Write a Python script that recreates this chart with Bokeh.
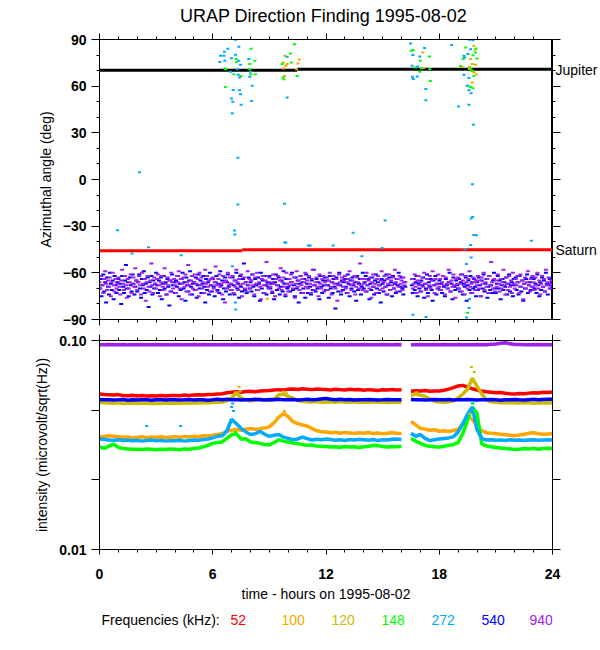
import numpy as np
from bokeh.plotting import figure
from bokeh.layouts import column, row
from bokeh.models import (Range1d, LinearAxis, LogAxis, FixedTicker,
                          CustomJSTickFormatter)
from bokeh.core.properties import value
from bokeh.embed import file_html
from bokeh.resources import INLINE

FONT = "Liberation Sans"
TITLE = "URAP Direction Finding  1995-08-02"
HOUR_TICKS = [0, 6, 12, 18, 24]
HOUR_MINOR = list(range(25))
AZ_TICKS = [-90, -60, -30, 0, 30, 60, 90]
AZ_MINOR = list(range(-90, 91, 10))
INT_TICKS = [0.01, 0.0215443, 0.0464159, 0.1]
FREQS = ["52", "100", "120", "148", "272", "540", "940"]
COLORS = ["#FF0000", "#FFA500", "#CCBB00", "#00FF00", "#00AAFF", "#0000FF", "#A020F0"]
PLANETS = ["Jupiter", "Saturn"]

# Jupiter / Saturn reference directions (deg)
jup_t0 = [0, 10.47]
jup_t1 = [10.47, 24]
jup_az = [70.3, 70.9]
sat_t0 = [0, 7.56]
sat_t1 = [7.56, 24]
sat_az = [-45.8, -45.2]
planet_az = [70.6, -45.5]

N = None
# azimuth magnitudes (angles are negative), sampled every 0.05 h
az_940 = [
 66,70,62,68,73,64,59,67,71,65, 69,63,75,66,60,68,72,64,70,67,
 63,69,74,65,58,67,71,62,68,76, 64,70,66,61,73,67,63,69,57,65,
 71,66,62,68,74,60,67,70,64,78, 66,62,69,72,65,54,68,73,63,67,
 70,64,61,68,75,66,62,69,71,57, 67,74,63,68,65,72,60,66,70,64,
 68,73,62,66,59,70,64,77,67,63, 69,61,72,66,55,68,74,65,62,70,
 66,61,71,67,64,75,60,68,63,70, 66,73,58,67,62,69,65,72,64,68,
 63,70,66,56,68,72,64,61,69,67, 74,62,66,79,65,70,60,68,63,71,
 67,62,73,65,69,58,66,71,64,68, 61,75,67,63,70,66,72,59,68,64,
 70,65,61,68,74,63,67,60,71,66, 69,77,64,62,68,73,65,53,67,70,
 63,69,66,72,61,67,75,64,68,62, 70,65,57,71,66,63,69,74,60,67,
 72,64,68,61,66,70,63,76,67,59, 69,65,71,62,68,64,73,66,60,69,
 65,70,62,67,73,64,58,68,71,66, 63,69,75,61,67,70,64,62,72,66,
 68,63,71,65,60,69,74,66,62,67, 70,64,78,68,61,66,72,63,69,65,
 62,70,66,73,64,59,68,71,65,67, 62,74,69,63,66,70,54,68,64,71,
 67,64,72,60,68,65,70,63,76,66, 61,69,67,73,64,62,68,71,65,59,
 70,66,62,69,74,64,67,61,71,65, 68,63,70,58,66,72,64,69,62,67,
 65,71,63,68,66,N,N,N,N,N, N,64,70,67,61,69,73,65,62,68,
 66,72,63,69,60,67,71,64,75,68, 62,70,65,59,68,73,64,67,70,61,
 69,64,71,66,62,68,74,63,67,70, 58,66,72,65,69,61,68,76,64,67,
 63,70,67,61,72,65,68,74,62,66, 70,64,59,69,67,73,63,66,71,65,
 68,62,70,65,75,63,67,60,71,66, 69,64,73,62,68,53,66,70,64,72,
 65,69,61,67,72,64,70,66,58,68, 74,63,67,71,62,69,65,73,60,67,
 70,64,68,62,66,73,61,69,65,77, 67,63,70,66,59,68,72,64,69,62,
 66,71,63,68,60,70,65,74,67,62, 69,64,72,58,68,66,63,70,67,65,
 68]
az_540 = [
 70,64,75,68,61,72,66,79,63,69, 74,60,67,71,65,77,62,68,73,66,
 64,71,67,80,62,69,73,65,55,70, 66,75,63,68,72,61,67,74,69,65,
 72,66,61,70,76,64,68,59,73,67, 71,63,82,66,69,62,74,65,70,67,
 60,68,73,65,71,63,77,67,62,70, 66,74,64,69,81,65,72,61,68,66,
 73,65,69,62,75,67,71,64,60,70, 66,78,63,68,72,65,59,69,74,67,
 66,71,63,76,68,61,70,65,73,67, 62,69,79,64,71,66,74,60,68,72,
 64,69,75,66,62,71,67,73,59,68, 65,77,70,63,72,66,61,69,74,67,
 71,63,68,74,65,60,70,67,76,62, 69,72,64,54,71,66,73,68,63,70,
 66,72,61,69,75,64,68,71,63,67, 78,60,70,65,73,62,68,74,66,69,
 62,70,67,73,64,77,66,61,71,68, 63,74,69,65,72,59,67,75,64,70,
 69,64,72,66,60,71,68,75,63,70, 65,79,67,62,73,66,70,64,76,61,
 67,73,63,69,74,65,71,58,68,72, 64,70,66,77,62,69,73,65,68,63,
 71,65,68,76,62,70,66,73,64,69, 83,63,67,72,60,68,74,65,71,66,
 64,69,73,61,67,75,65,70,63,68, 72,66,78,62,71,67,64,74,69,60,
 70,66,62,72,68,64,77,67,71,63, 69,74,65,61,70,66,73,68,79,64,
 67,72,65,69,61,74,68,63,71,66, 75,62,70,67,73,64,68,60,72,69,
 63,70,74,66,69,N,N,N,N,N, N,68,73,64,71,66,62,75,67,70,
 72,65,68,63,76,67,70,61,73,66, 69,64,71,78,65,68,62,74,67,70,
 65,71,67,73,62,69,75,64,68,70, 66,60,72,67,77,63,69,71,65,68,
 70,64,72,66,61,74,67,69,63,78, 68,65,71,62,73,66,70,64,69,75,
 66,71,63,68,75,65,70,61,72,67, 64,76,69,62,71,68,73,65,60,70,
 73,67,62,70,65,77,68,64,71,66, 69,63,74,67,61,72,68,66,75,64,
 68,63,71,66,74,62,69,72,65,78, 67,70,64,61,73,68,66,71,63,69,
 64,70,67,73,61,68,75,66,71,63, 69,65,72,60,67,74,68,64,70,66,
 69]

# sporadic direction fixes (hour, deg)
t_272 = [7.21,6.62,6.41,7.38,6.80,6.59,6.64,6.37,7.21,6.99,7.38,7.47,7.29,6.94,7.35,7.42,
         7.50,7.08,7.42,7.47,6.99,7.06,7.03,8.05,8.09,7.96,7.91,8.00,9.94,9.94,7.33,7.33,
         7.15,7.17,9.80,9.82,11.06,7.04,
         16.48,17.22,16.60,16.97,16.56,16.86,16.58,16.83,16.62,17.29,17.29,18.65,19.60,19.78,
         19.66,19.31,19.34,19.52,19.31,19.57,19.48,19.57,19.69,19.02,19.57,19.81,19.76,19.77,
         19.69,19.83,19.66,19.36,19.69,19.44,
         2.12,0.96,2.60,1.72,4.33,9.87,11.16,12.38,13.44,13.90,14.97,15.13,19.97,22.88,
         7.20,7.22,16.60,17.30,19.45,19.58,19.60]
a_272 = [89.8,82.1,79.5,85.3,84.0,79.5,76.3,75.6,80.2,78.0,76.3,73.7,70.9,69.2,67.3,65.6,
         48.0,57.6,57.4,54.8,52.0,50.0,42.6,50.5,60.2,66.0,77.4,69.2,78.9,52.7,14.0,-16.1,
         -32.8,-35.4,-15.6,-40.3,-42.5,-55.8,
         87.5,84.5,80.0,79.0,73.1,72.7,66.0,66.2,64.6,58.1,51.0,86.4,89.8,89.5,
         83.8,79.5,78.4,80.6,67.3,65.2,60.2,57.4,55.5,46.9,48.0,35.2,-3.0,-24.1,
         -25.1,-35.6,-42.1,-44.8,-50.1,-54.4,
         4.6,-32.6,-43.6,-47.6,-48.7,-40.7,-42.5,-42.5,-34.3,-49.4,-44.0,-26.4,-35.8,-39.3,
         -79.1,-83.6,-87.0,-88.4,-88.7,-82.6,-76.8]
t_148 = [8.03,8.23,7.96,6.64,6.69,7.24,7.26,7.12,7.50,7.96,8.00,8.26,6.67,10.33,10.12,9.68,
         10.16,9.71,9.77,10.47,16.51,16.62,17.48,17.00,16.74,17.06,16.97,17.50,17.53,19.40,
         19.95,20.00,19.92,19.79,19.13,19.27,19.66,19.75,19.83,19.52,19.66,19.79,19.50]
a_148 = [84.0,76.3,74.2,71.4,70.8,77.4,75.6,67.7,66.6,70.9,67.7,67.7,59.5,87.0,81.0,74.2,
         75.2,65.6,64.5,66.6,82.7,83.2,79.0,76.3,72.0,71.4,69.2,70.9,63.4,84.9,
         84.2,77.8,81.6,79.9,72.9,77.4,71.4,69.9,66.6,60.2,59.5,58.7,-85.7]
t_100 = [9.73,9.94,10.58,10.51,9.77,10.44,9.80,9.87,17.13,17.18,19.97,19.75,19.21,8.90]
a_100 = [75.2,74.2,77.2,74.6,71.4,70.9,66.6,73.1,81.6,71.6,67.7,62.3,72.5,-76.6]
t_120 = [9.82,19.83,19.89,19.66,19.75,19.92,19.62,19.72,19.83,19.60]
a_120 = [79.5,86.0,83.4,77.4,74.2,73.7,72.5,69.9,68.9,71.0]

# intensity (1e-3 microvolt/sqrt(Hz)), every 0.25 h
i_52 = [55.5,55.2,55.0,54.8,55.1,54.6,54.4,54.7, 54.3,54.5,54.2,54.4,54.3,54.6,54.3,54.5,
        54.6,54.4,54.8,54.5,54.9,55.0,54.8,55.2, 55.1,55.4,55.6,56.2,56.5,56.8,56.6,57.0,
        57.1,56.9,57.3,57.5,57.6,57.9,58.2,58.0, 58.4,58.6,58.3,58.7,58.5,58.2,58.6,58.4,
        58.3,58.0,58.5,58.2,57.9,58.4,58.1,58.3, 57.8,58.2,58.0,57.6,58.1,57.9,58.3,58.0,
        58.2,N,57.2,57.5,57.3,57.6,57.2,57.4, 57.3,57.8,58.5,59.5,60.6,61.0,59.8,58.8,
        58.0,57.3,56.8,56.5,56.2,56.4,55.9,55.6, 55.5,55.8,55.6,56.0,56.3,56.1,56.6,56.4, 56.7]
i_100 = [34.5,34.7,35.0,34.8,34.6,34.4,34.5,34.3, 34.4,34.6,34.3,34.5,34.4,34.6,34.3,34.5,
         34.6,34.4,34.7,34.5,34.8,34.6,35.0,34.9, 35.2,35.5,35.9,36.8,37.2,37.5,37.2,37.6,
         37.9,37.6,37.8,38.2,38.6,40.5,43.0,44.7, 43.2,40.9,40.0,39.4,39.0,38.0,37.0,36.6,
         36.5,36.2,36.4,36.0,36.3,36.1,35.9,36.2, 36.0,36.3,35.9,36.1,35.8,36.0,36.2,36.0,
         35.9,N,41.0,39.5,38.0,37.6,37.2,37.4, 36.8,37.0,36.7,37.1,37.5,40.0,43.0,42.0,
         39.0,37.0,36.2,36.0,35.9,35.6,35.4,35.2, 35.0,35.3,35.6,36.0,36.2,35.8,35.6,35.7, 35.8]
i_120 = [50.6,50.4,50.2,50.1,50.3,50.0,50.1,50.2, 50.0,50.2,50.1,49.9,50.1,50.0,50.2,50.1,
         50.2,50.0,50.3,50.1,50.4,50.2,50.5,50.3, 50.5,50.6,50.8,51.5,53.0,56.5,53.0,52.0,
         51.5,51.8,52.5,52.0,51.6,52.5,55.0,55.5, 54.0,52.8,51.6,51.2,50.9,50.8,51.0,50.7,
         50.8,50.9,50.7,51.0,50.8,50.6,50.9,50.7, 50.8,50.6,50.9,50.7,50.8,50.5,50.7,50.8,
         50.6,N,54.5,55.5,54.8,54.0,52.5,51.2, 50.8,50.6,50.9,51.5,53.0,55.5,58.5,66.0,
         60.5,55.5,52.0,50.9,50.6,50.4,50.5,50.3, 50.4,50.2,50.5,50.3,50.1,50.4,50.2,50.3, 50.2]
i_148 = [31.0,30.5,31.2,31.9,30.8,30.4,30.3,30.2, 30.2,30.1,30.3,30.2,30.0,30.2,30.1,30.3,
         30.2,30.0,30.3,30.2,30.4,30.6,31.0,31.5, 32.2,32.5,32.7,34.0,35.4,35.8,33.7,33.9,
         32.7,32.5,32.2,31.8,31.6,32.5,33.5,33.0, 32.7,32.3,32.1,31.8,31.5,31.6,31.3,31.2,
         31.1,30.9,31.0,30.8,31.1,30.9,31.0,30.8, 31.0,31.2,31.5,31.4,31.1,30.9,31.1,31.0,
         31.2,N,34.0,33.0,32.2,31.5,31.2,31.0, 30.9,31.2,31.5,31.8,32.5,35.9,41.6,48.0,
         45.0,32.0,31.3,31.0,30.8,30.6,30.4,30.3, 30.1,30.2,30.4,30.3,30.5,30.2,30.4,30.5, 30.4]
i_272 = [33.8,33.6,33.4,33.3,33.5,33.2,33.4,33.1, 33.3,33.0,33.2,33.4,33.1,33.3,33.0,33.2,
         33.1,33.3,33.0,33.2,33.4,33.3,33.6,33.8, 34.2,34.8,35.0,37.0,42.0,40.0,38.0,36.5,
         35.5,35.8,36.8,35.6,34.8,35.2,35.5,34.5, 34.0,33.5,33.8,34.5,33.9,33.4,33.7,33.5,
         33.8,33.6,33.3,33.5,33.2,33.6,33.4,33.7, 33.5,33.3,33.6,33.2,33.5,33.4,33.7,33.8,
         33.6,N,36.0,34.8,35.5,34.0,33.2,33.5, 33.8,34.0,34.2,34.6,36.5,40.0,44.5,48.0,
         37.5,34.0,33.4,33.5,33.3,33.4,33.2,33.5, 33.3,33.4,33.2,33.4,33.5,33.3,33.4,33.5, 33.4]
i_540 = [52.2,52.0,52.1,51.9,52.0,52.2,51.8,52.0, 51.9,52.1,52.0,51.8,52.0,52.1,51.9,52.0,
         52.1,51.9,52.0,52.2,51.9,52.0,52.1,51.8, 52.0,52.3,52.1,52.4,52.0,52.2,51.9,52.1,
         52.0,52.3,52.1,51.9,52.2,52.0,52.3,52.1, 52.0,52.2,51.9,52.1,52.3,52.0,52.2,52.5,
         52.8,52.4,52.1,52.3,52.0,52.2,51.9,52.1, 52.0,52.2,52.1,51.9,52.0,52.2,52.1,52.0,
         52.1,N,52.2,52.0,52.1,51.9,52.0,52.2, 52.1,52.0,52.2,51.9,52.1,52.0,52.2,52.1,
         51.9,52.1,52.0,52.2,52.0,51.8,52.1,52.0, 52.2,52.0,51.9,52.1,52.3,52.0,52.2,52.4, 52.3]
i_940 = [95.5,95.3,95.6,95.4,95.5,95.7,95.3,95.5, 95.4,95.6,95.3,95.5,95.7,95.4,95.5,95.3,
         95.6,95.4,95.5,95.3,95.6,95.5,95.7,95.4, 95.5,95.3,95.6,95.4,95.5,95.7,95.4,95.6,
         95.5,95.3,95.6,95.5,95.4,95.6,95.3,95.5, 95.6,95.4,95.5,95.7,95.3,95.5,95.6,95.4,
         95.5,95.6,95.3,95.5,95.4,95.6,95.5,95.3, 95.6,95.4,95.5,95.3,95.6,95.5,95.4,95.6,
         95.5,N,95.3,95.5,95.6,95.4,95.5,95.7, 95.4,95.6,95.3,95.5,95.6,95.4,95.5,95.3,
         95.6,95.5,95.4,95.9,96.3,97.0,97.6,96.4, 95.6,95.6,95.4,95.5,95.3,95.6,95.5,95.4, 95.5]
# burst spray in intensity panel (hour, 1e-3)
s_t = [7.40,7.45,9.75,9.90,19.70,19.85,19.60,16.80, 7.00,7.10,7.05,19.75,19.80,2.50,4.30,
       19.80,19.90,7.20, 9.80,19.60]
s_v = [60.0,57.0,57.0,56.0,74.6,70.6,62.0,56.5, 48.0,46.0,50.0,50.0,46.0,39.0,39.0,
       50.0,46.0,36.5, 46.0,44.5]
s_c = [2,2,2,2,2,2,2,2, 4,4,4,4,4,4,4, 3,3,3, 1,1]


def style_axis(ax, out, minor_out, labels=True):
    ax.axis_line_color = "black"
    ax.major_tick_line_color = "black"
    ax.minor_tick_line_color = "black"
    ax.major_tick_in = 0
    ax.minor_tick_in = 0
    ax.major_tick_out = out
    ax.minor_tick_out = minor_out
    ax.major_label_text_font = FONT
    ax.major_label_text_font_style = "bold"
    ax.major_label_text_font_size = "14px"
    ax.major_label_text_color = "black"
    ax.axis_label_text_font = FONT
    ax.axis_label_text_font_style = "normal"
    ax.axis_label_text_font_size = "14px"
    ax.axis_label_text_color = "black"
    if not labels:
        ax.formatter = CustomJSTickFormatter(code="return '';")
        ax.major_label_text_font_size = "0px"
        ax.major_label_standoff = 0


def base_fig(width, height, left, right, top, bottom, x_range, y_range, ytype="linear"):
    p = figure(width=width, height=height, x_range=x_range, y_range=y_range,
               y_axis_type=ytype, x_axis_location=None, y_axis_location=None,
               output_backend="svg", toolbar_location=None,
               min_border_left=left, min_border_right=right,
               min_border_top=top, min_border_bottom=bottom)
    p.outline_line_color = "black"
    p.outline_line_width = 1
    p.background_fill_color = "white"
    p.border_fill_color = "white"
    p.grid.visible = False
    return p


# ---------------- title strip (x in page pixels, frame 99..552) ----------------
pT = base_fig(600, 30, 99, 48, 0, 0, Range1d(99, 552), Range1d(30, 0))
pT.outline_line_color = None
pT.text(x=[325.5], y=[15], text=[TITLE], text_baseline="middle", text_align="center",
        text_font=value(FONT), text_font_size="18px", text_color="black")

# ---------------- top panel: azimuth ----------------
az_range = Range1d(-90, 90)
p1 = base_fig(552, 299, 99, 0, 9, 10, Range1d(0, 24), az_range)

ax = LinearAxis(ticker=FixedTicker(ticks=AZ_TICKS, minor_ticks=AZ_MINOR),
                axis_label="Azimuthal angle (deg)")
style_axis(ax, 8, 3)
ax.major_label_standoff = 5
ax.axis_label_standoff = 6
p1.add_layout(ax, "left")
for side in ("above", "below"):
    ax = LinearAxis(ticker=FixedTicker(ticks=HOUR_TICKS, minor_ticks=HOUR_MINOR))
    style_axis(ax, 6, 3, labels=False)
    p1.add_layout(ax, side)

p1.segment(x0=jup_t0, x1=jup_t1, y0=jup_az, y1=jup_az, line_color="black", line_width=3)
p1.segment(x0=sat_t0, x1=sat_t1, y0=sat_az, y1=sat_az, line_color="#FF0000", line_width=3)


def dots(p, t, a, color, w=3):
    p.rect(x=t, y=a, width=w, height=2, width_units="screen", height_units="screen",
           fill_color=color, line_color=None)


dots(p1, t_100, a_100, COLORS[1])
dots(p1, t_120, a_120, COLORS[2])
dots(p1, t_148, a_148, COLORS[3])
dots(p1, t_272, a_272, COLORS[4])
a540 = -np.array(az_540, dtype=float)
a940 = -np.array(az_940, dtype=float)
dots(p1, np.arange(len(a540)) * 0.05, a540, COLORS[5], w=4)
dots(p1, np.arange(len(a940)) * 0.05, a940, COLORS[6], w=4)

# right-hand strip: right axis ticks + planet names
pJ = base_fig(48, 299, 0, 0, 9, 10, Range1d(0, 48), az_range)
pJ.outline_line_color = None
axr = LinearAxis(ticker=FixedTicker(ticks=AZ_TICKS, minor_ticks=AZ_MINOR))
style_axis(axr, 0, 0, labels=False)
axr.major_tick_in = 8
axr.minor_tick_in = 3
pJ.add_layout(axr, "left")
pJ.text(x=[3, 3], y=planet_az, text=PLANETS, text_baseline="middle", text_align="left",
        text_font=value(FONT), text_font_size="14px", text_color="black")

# ---------------- bottom panel: intensity ----------------
p2 = base_fig(600, 276, 99, 48, 11, 56, Range1d(0, 24), Range1d(0.01, 0.1), ytype="log")
ax = LogAxis(ticker=FixedTicker(ticks=INT_TICKS, minor_ticks=[]),
             axis_label="intensity (microvolt/sqrt(Hz))")
style_axis(ax, 8, 0)
ax.formatter = CustomJSTickFormatter(code=(
    "if (Math.abs(tick-0.1)<1e-7) return '0.10';"
    "if (Math.abs(tick-0.01)<1e-7) return '0.01'; return '';"))
ax.major_label_standoff = 5
ax.axis_label_standoff = 6
p2.add_layout(ax, "left")
ax = LogAxis(ticker=FixedTicker(ticks=INT_TICKS, minor_ticks=[]))
style_axis(ax, 8, 0, labels=False)
p2.add_layout(ax, "right")
ax = LinearAxis(ticker=FixedTicker(ticks=HOUR_TICKS, minor_ticks=HOUR_MINOR))
style_axis(ax, 6, 3, labels=False)
p2.add_layout(ax, "above")
ax = LinearAxis(ticker=FixedTicker(ticks=HOUR_TICKS, minor_ticks=HOUR_MINOR),
                axis_label="time - hours on 1995-08-02")
style_axis(ax, 5, 3)
ax.major_label_standoff = 14
ax.axis_label_standoff = 4
p2.add_layout(ax, "below")

for series, color in zip([i_52, i_100, i_120, i_148, i_272, i_540, i_940], COLORS):
    v = np.array(series, dtype=float) * 1e-3
    p2.line(x=np.arange(len(v)) * 0.25, y=v, line_color=color, line_width=3.5)

for t, v, c in zip(s_t, s_v, s_c):
    p2.rect(x=[t], y=[v * 1e-3], width=3, height=2, width_units="screen",
            height_units="screen", fill_color=COLORS[c], line_color=None)

# ---------------- frequency key (x in page pixels, frame aligned 99..552) ----------------
pL = base_fig(600, 40, 99, 48, 0, 0, Range1d(99, 552), Range1d(40, 0))
pL.outline_line_color = None
key_x = [230, 281, 331, 381, 431, 481, 529]
pL.text(x=[101], y=[14], text=["Frequencies (kHz):"], text_baseline="middle",
        text_align="left", text_font=value(FONT), text_font_size="14px", text_color="black")
pL.text(x=key_x, y=[14] * len(FREQS), text=FREQS, text_baseline="middle",
        text_align="left", text_font=value(FONT), text_font_size="14px", text_color=COLORS)

layout = column(pT, row(p1, pJ, spacing=0), p2, pL, spacing=0)
open("out.html", "w").write(file_html(layout, INLINE))
